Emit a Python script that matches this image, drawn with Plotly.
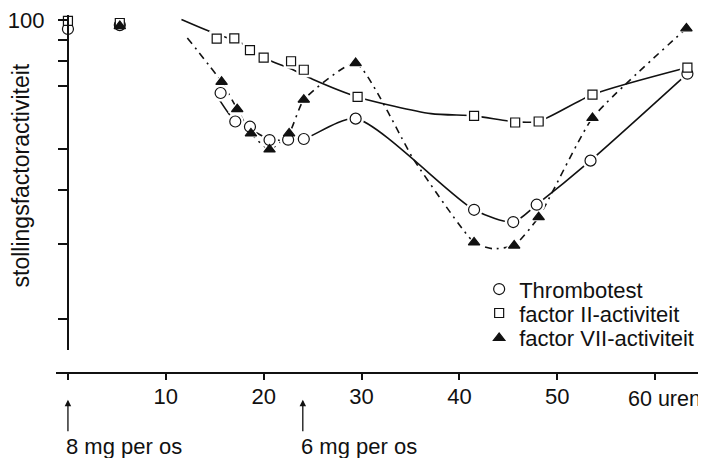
"""Stollingsfactoractiviteit na orale toediening: Thrombotest, factor II en factor VII."""

import plotly.graph_objects as go

FONT = "Liberation Sans, Arial, Helvetica, sans-serif"
INK = "#111111"

# ── measured points (hours after first dose, % activity) ─────────────
tt_uren = [0, 5.3, 15.6, 17.1, 18.6, 20.6, 22.5, 24.1, 29.4, 41.5, 45.5, 47.9, 53.4, 63.3]
tt_act = [95.3, 97.3, 67.5, 57.9, 56.3, 52.4, 52.5, 52.7, 58.8, 36.0, 33.7, 37.0, 46.9, 74.9]

f2_uren = [0, 5.3, 15.2, 17.0, 18.6, 20.0, 22.8, 24.1, 29.6, 41.5, 45.7, 48.1, 53.6, 63.3]
f2_act = [99.5, 98.4, 90.5, 90.6, 85.0, 81.7, 80.1, 76.5, 66.1, 59.7, 57.6, 57.9, 66.9, 77.4]

f7_uren = [5.3, 15.7, 17.3, 18.7, 20.6, 22.6, 24.1, 29.4, 41.5, 45.6, 48.1, 53.6, 63.2]
f7_act = [96.8, 71.7, 61.9, 54.3, 49.8, 54.3, 65.1, 79.3, 30.2, 29.7, 34.6, 59.0, 95.6]

# ── hand-drawn curves through the points (knots) ─────────────────────
tt_curve_uren = [15.4, 17.1, 18.6, 20.6, 22.5, 24.1, 29.4, 41.5, 45.5, 47.9, 53.4, 63.3]
tt_curve_act = [65.5, 57.9, 55.6, 52.6, 52.3, 52.7, 58.8, 36.0, 33.7, 37.0, 46.9, 74.9]

f2_curve_uren = [11.6, 14.8, 17.7, 20.6, 22.9, 25.0, 29.6, 37.1, 41.5, 45.7, 48.1, 53.6, 63.3]
f2_curve_act = [100.3, 93.4, 88.4, 80.5, 76.7, 72.7, 66.1, 60.4, 59.7, 57.8, 58.0, 66.9, 77.4]

f7_curve_uren = [12.2, 15.7, 17.3, 18.7, 20.6, 22.6, 24.1, 29.4, 35.4, 41.5, 43.4, 45.6, 48.1, 53.6, 63.2]
f7_curve_act = [90.8, 71.7, 61.9, 54.3, 49.8, 54.3, 65.1, 79.3, 46.9, 30.2, 29.2, 29.7, 34.6, 59.0, 95.6]

# ── axes / doses ─────────────────────────────────────────────────────
x_ticks = [0, 10, 20, 30, 40, 50, 60]
x_labels = ["", "10", "20", "30", "40", "50", ""]
y_ticks = [20, 30, 40, 50, 70, 80, 90, 100]
y_labels = ["", "", "", "", "", "", "", "100"]
dose_uren = [0, 24]
dose_text = ["8 mg per os", "6 mg per os"]

SERIES = [
    # name, points x, points y, curve x, curve y, symbol, fill, size, dash, smoothing, legend
    ("Thrombotest", tt_uren, tt_act, tt_curve_uren, tt_curve_act,
     "circle", "white", 11, "solid", 0.7, "legend"),
    ("factor II-activiteit", f2_uren, f2_act, f2_curve_uren, f2_curve_act,
     "square", "white", 9, "solid", 0.7, "legend2"),
    ("factor VII-activiteit", f7_uren, f7_act, f7_curve_uren, f7_curve_act,
     "triangle-up", INK, 10, "7px,5px,2px,5px", 0.5, "legend3"),
]

fig = go.Figure()

# curves first, then white halos so lines break around the markers
for name, px_, py_, cx, cy, sym, fill, size, dash, smooth, leg in SERIES:
    fig.add_trace(go.Scatter(
        x=cx, y=cy, mode="lines", showlegend=False, hoverinfo="skip",
        line=dict(color=INK, width=1.6, dash=dash, shape="spline", smoothing=smooth),
    ))
for name, px_, py_, cx, cy, sym, fill, size, dash, smooth, leg in SERIES:
    fig.add_trace(go.Scatter(
        x=px_, y=py_, mode="markers", showlegend=False, hoverinfo="skip",
        marker=dict(symbol=sym, size=size + 6, color="white", line=dict(width=0)),
        cliponaxis=False,
    ))
for name, px_, py_, cx, cy, sym, fill, size, dash, smooth, leg in SERIES:
    fig.add_trace(go.Scatter(
        x=px_, y=py_, mode="markers", name=name, legend=leg,
        marker=dict(symbol=sym, size=size, color=fill, line=dict(color=INK, width=1.2)),
        cliponaxis=False,
    ))

# dose arrows + labels under the time axis
for t, label in zip(dose_uren, dose_text):
    fig.add_annotation(
        x=t, xref="x", y=-0.075, yref="paper", text="",
        showarrow=True, ax=0, ay=33, arrowhead=2, arrowsize=1,
        arrowwidth=1.3, arrowcolor=INK,
    )
    fig.add_annotation(
        x=t, xref="x", y=-0.206, yref="paper", text=label,
        showarrow=False, xanchor="left", yanchor="middle", xshift=-4,
        font=dict(family=FONT, size=22, color=INK),
    )

# last tick label carries the unit
fig.add_annotation(
    x=x_ticks[-1], xref="x", y=-0.072, yref="paper", text="60 uren",
    showarrow=False, xanchor="left", yanchor="middle", xshift=-29,
    font=dict(family=FONT, size=21.5, color=INK),
)

# y title
fig.add_annotation(
    x=-0.054, xref="paper", y=0.5515, yref="paper",
    text="stollingsfactoractiviteit", textangle=-90, showarrow=False,
    xanchor="center", yanchor="middle",
    font=dict(family=FONT, size=23, color=INK),
)

legend_style = dict(
    x=0.651, xanchor="left", yanchor="middle",
    bgcolor="rgba(0,0,0,0)", borderwidth=0,
    font=dict(family=FONT, size=22, color=INK),
)

# page body has an 8px margin, so the figure is 8px smaller each way
fig.update_layout(
    width=698, height=450,
    margin=dict(l=45, r=0, t=6, b=85),
    paper_bgcolor="white", plot_bgcolor="white",
    font=dict(family=FONT, size=22, color=INK),
    legend=dict(legend_style, y=0.234),
    legend2=dict(legend_style, y=0.167),
    legend3=dict(legend_style, y=0.0975),
    xaxis=dict(
        range=[-1.22, 65.2], anchor="free", position=0,
        showline=True, linewidth=2, linecolor=INK,
        ticks="outside", ticklen=6, tickwidth=1.5, tickcolor=INK,
        tickvals=x_ticks, ticktext=x_labels, ticklabelstandoff=-2,
        showgrid=False, zeroline=False,
    ),
    yaxis=dict(
        type="log", range=[1.2284, 2.0117], domain=[0.0641, 1],
        anchor="free", position=0.01838,
        showline=True, linewidth=2, linecolor=INK,
        ticks="outside", ticklen=9, tickwidth=1.5, tickcolor=INK,
        tickvals=y_ticks, ticktext=y_labels, ticklabelstandoff=9,
        ticklabeloverflow="allow",
        showgrid=False, zeroline=False,
    ),
)

fig.write_html("out.html")
